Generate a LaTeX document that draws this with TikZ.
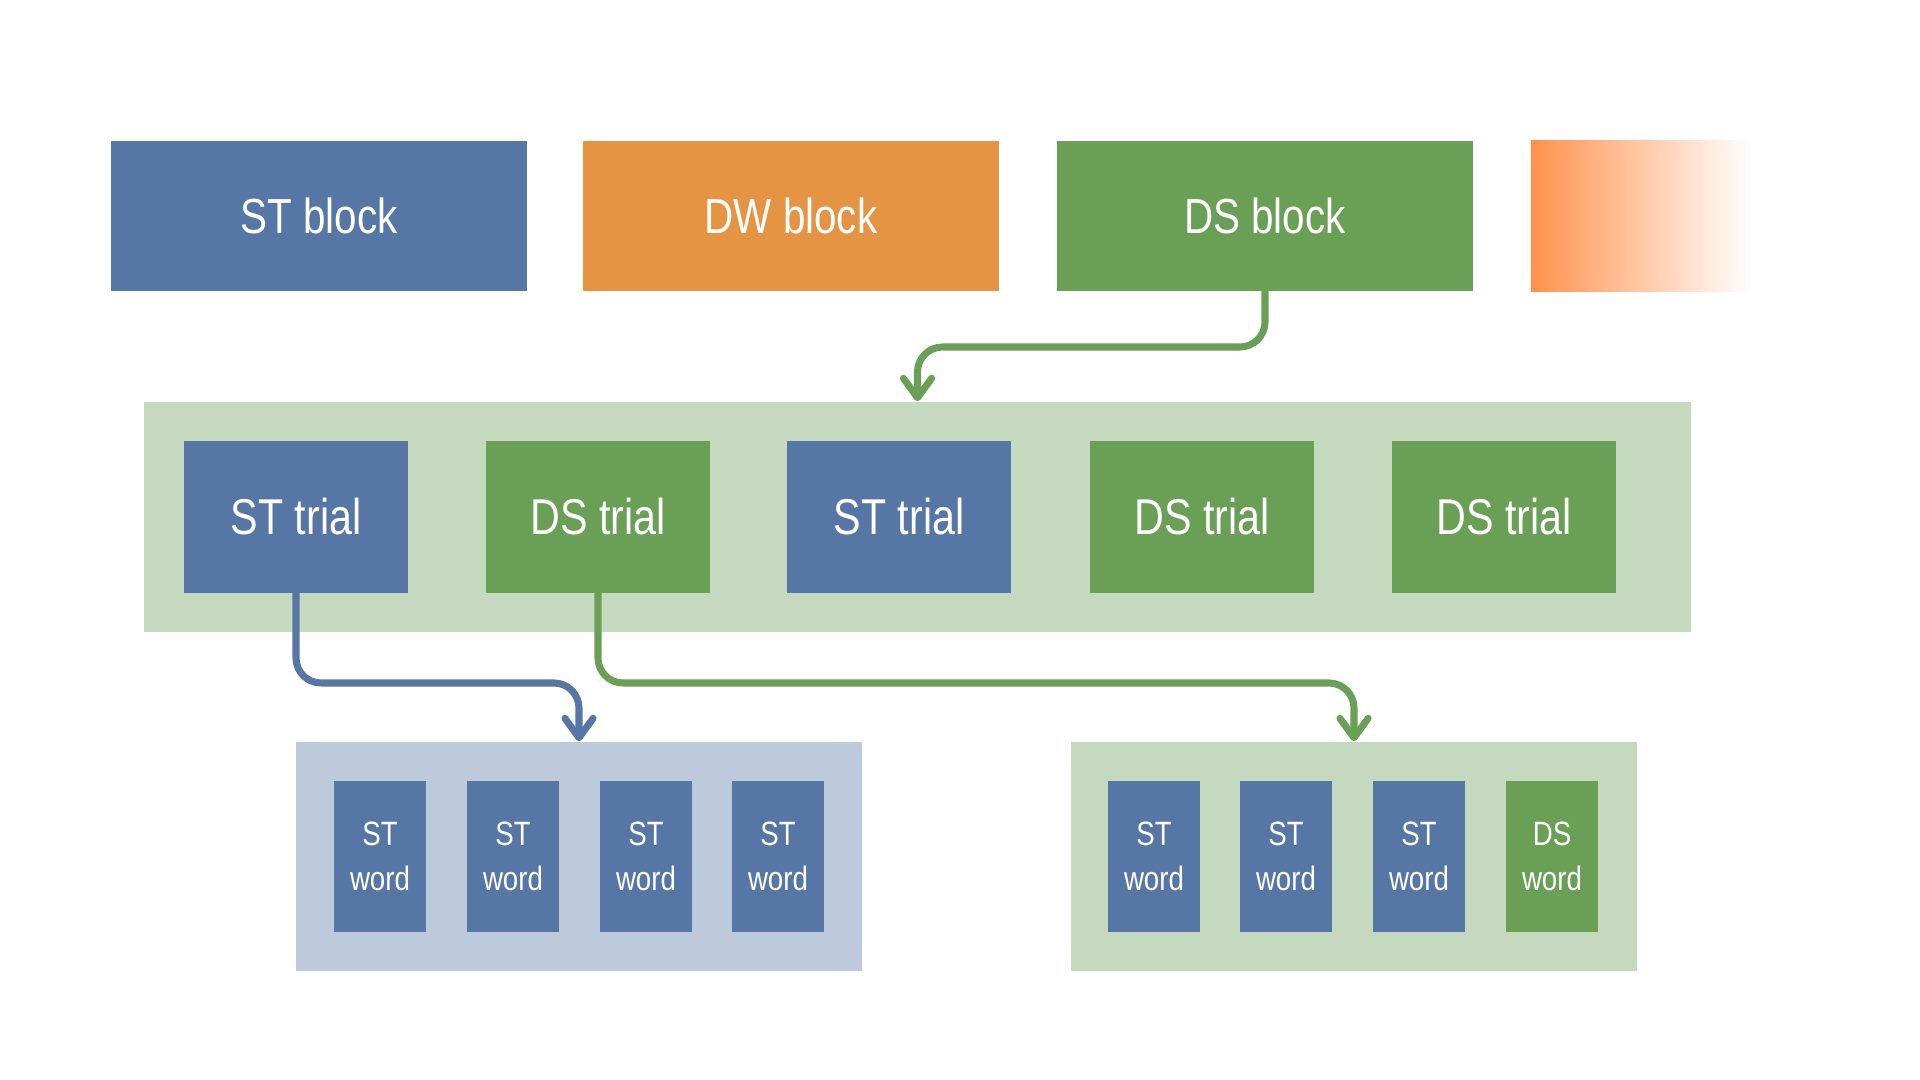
\documentclass[tikz,border=0pt]{standalone}
\usepackage{fontspec}
\setmainfont[FakeStretch=0.82]{Liberation Sans}
\usetikzlibrary{arrows.meta,positioning}

\definecolor{stblue}{HTML}{5677A5}
\definecolor{dworange}{HTML}{E59444}
\definecolor{dsgreen}{HTML}{6A9F56}
\definecolor{lightgreen}{HTML}{C5D9BE}
\definecolor{lightblue}{HTML}{BCCADB}
\definecolor{fadeorange}{HTML}{FF914D}

\begin{document}
\begin{tikzpicture}[x=0.01cm,y=-0.01cm,
        box/.style={shape=rectangle,inner sep=0,text=white,align=center},
        blockbox/.style={box,minimum width=4.15cm,minimum height=1.5cm,font=\fontsize{14}{17}\selectfont},
        trialbox/.style={box,minimum width=2.24cm,minimum height=1.52cm,font=\fontsize{14.3}{17}\selectfont},
        wordbox/.style={box,minimum width=0.92cm,minimum height=1.51cm,font=\fontsize{9.6}{12.6}\selectfont},
        flow/.style={line width=2pt,rounded corners=0.25cm,line cap=round,
                     -{Straight Barb[length=5.5pt,width=8pt,round]}},
        ]
\useasboundingbox (0,0) rectangle (1920,1080);

% blocks
\node [blockbox, fill=stblue] (stblock) at (319,216) {ST block};
\node [blockbox, fill=dworange] (dwblock) at (791,216) {DW block};
\node [blockbox, fill=dsgreen] (dsblock) at (1265,216) {DS block};
\node [box, minimum width=2.2cm, minimum height=1.51cm, left color=fadeorange, right color=white] (nextblock) at (1641,216) {};

% trials
\node [box, fill=lightgreen, minimum width=15.47cm, minimum height=2.3cm] (trials) at (917.5,517) {};
\node [trialbox, fill=stblue] (sttrialA) at (296,517) {ST trial};
\node [trialbox, fill=dsgreen] (dstrialA) at (598,517) {DS trial};
\node [trialbox, fill=stblue] (sttrialB) at (899,517) {ST trial};
\node [trialbox, fill=dsgreen] (dstrialB) at (1202,517) {DS trial};
\node [trialbox, fill=dsgreen] (dstrialC) at (1504,517) {DS trial};

% words
\node [box, fill=lightblue, minimum width=5.66cm, minimum height=2.29cm] (stwords) at (579,856.5) {};
\node [wordbox, fill=stblue] (stwordA) at (380,856.5) {ST\\word};
\node [wordbox, fill=stblue] (stwordB) at (513,856.5) {ST\\word};
\node [wordbox, fill=stblue] (stwordC) at (646,856.5) {ST\\word};
\node [wordbox, fill=stblue] (stwordD) at (778,856.5) {ST\\word};

\node [box, fill=lightgreen, minimum width=5.66cm, minimum height=2.29cm] (dswords) at (1354,856.5) {};
\node [wordbox, fill=stblue] (stwordE) at (1154,856.5) {ST\\word};
\node [wordbox, fill=stblue] (stwordF) at (1286,856.5) {ST\\word};
\node [wordbox, fill=stblue] (stwordG) at (1419,856.5) {ST\\word};
\node [wordbox, fill=dsgreen] (dsword) at (1552,856.5) {DS\\word};

% arrows
\draw [flow, draw=dsgreen] (dsblock.south) -- (dsblock.south |- 0,347) -| (trials.north);
\draw [flow, draw=stblue] (sttrialA.south) -- (sttrialA.south |- 0,683) -| (stwords.north);
\draw [flow, draw=dsgreen] (dstrialA.south) -- (dstrialA.south |- 0,683) -| (dswords.north);

\end{tikzpicture}
\end{document}
